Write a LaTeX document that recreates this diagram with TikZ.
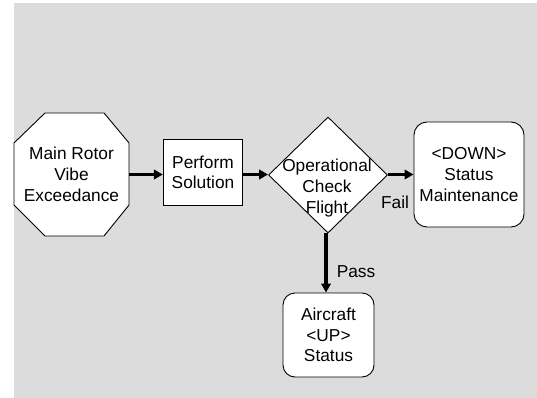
\documentclass[tikz,border=0pt]{standalone}
\usepackage{fontspec}
\setmainfont{Liberation Sans}
\usetikzlibrary{arrows.meta,shapes.geometric}
\definecolor{panel}{HTML}{DCDCDC}
\tikzset{
  lbl/.style={font=\fontsize{17.3}{20.7}\selectfont, align=center, inner sep=0pt},
  outline/.style={draw=black, line width=0.9pt, fill=white},
  flow/.style={line width=3.2pt, -{Triangle[length=9pt,width=9.5pt]}},
  roundbox/.style={outline, rounded corners=13pt, inner sep=0pt},
}
\begin{document}
\begin{tikzpicture}[x=1pt,y=-1pt]
  \useasboundingbox (0,0) rectangle (537,398);
  \fill[panel] (14,3) rectangle (537,398);

  % octagon start symbol
  \draw[outline] (45,113) -- (104,113) -- (129,143) -- (129,205) -- (104,236)
    -- (45,236) -- (14,205) -- (14,143) -- cycle;
  \node[lbl, minimum width=115pt, minimum height=123pt] (vibe) at (71.5,174.5)
    {Main Rotor\\Vibe\\Exceedance};

  % process step
  \node[lbl, outline, minimum width=79.4pt, minimum height=66pt] (perform) at (203,172.3)
    {Perform\\Solution};

  % decision
  \node[outline, diamond, inner sep=0pt, minimum width=119pt, minimum height=116pt]
    (check) at (328,175) {};
  \node[lbl] (checktext) at (327,188) {Operational\\Check\\Flight};

  % outcomes
  \node[lbl, roundbox, minimum width=110pt, minimum height=105pt] (down) at (469,174.5)
    {{<}DOWN{>}\\Status\\Maintenance};
  \node[lbl, roundbox, rounded corners=12pt, minimum width=91pt, minimum height=84pt] (up) at (328.5,335)
    {Aircraft\\{<}UP{>}\\Status};

  % connectors
  \draw[flow] (vibe.east |- 0,174.5) -- (perform.west |- 0,174.5);
  \draw[flow] (perform.east |- 0,174.5) -- (check.west |- 0,174.5);
  \draw[flow] (check.east |- 0,174.5) -- (down.west |- 0,174.5);
  \draw[flow] (check.south -| 326,0) -- (up.north -| 326,0);

  % branch labels
  \node[lbl] (fail) at (395,202) {Fail};
  \node[lbl] (pass) at (356,272) {Pass};
\end{tikzpicture}
\end{document}
